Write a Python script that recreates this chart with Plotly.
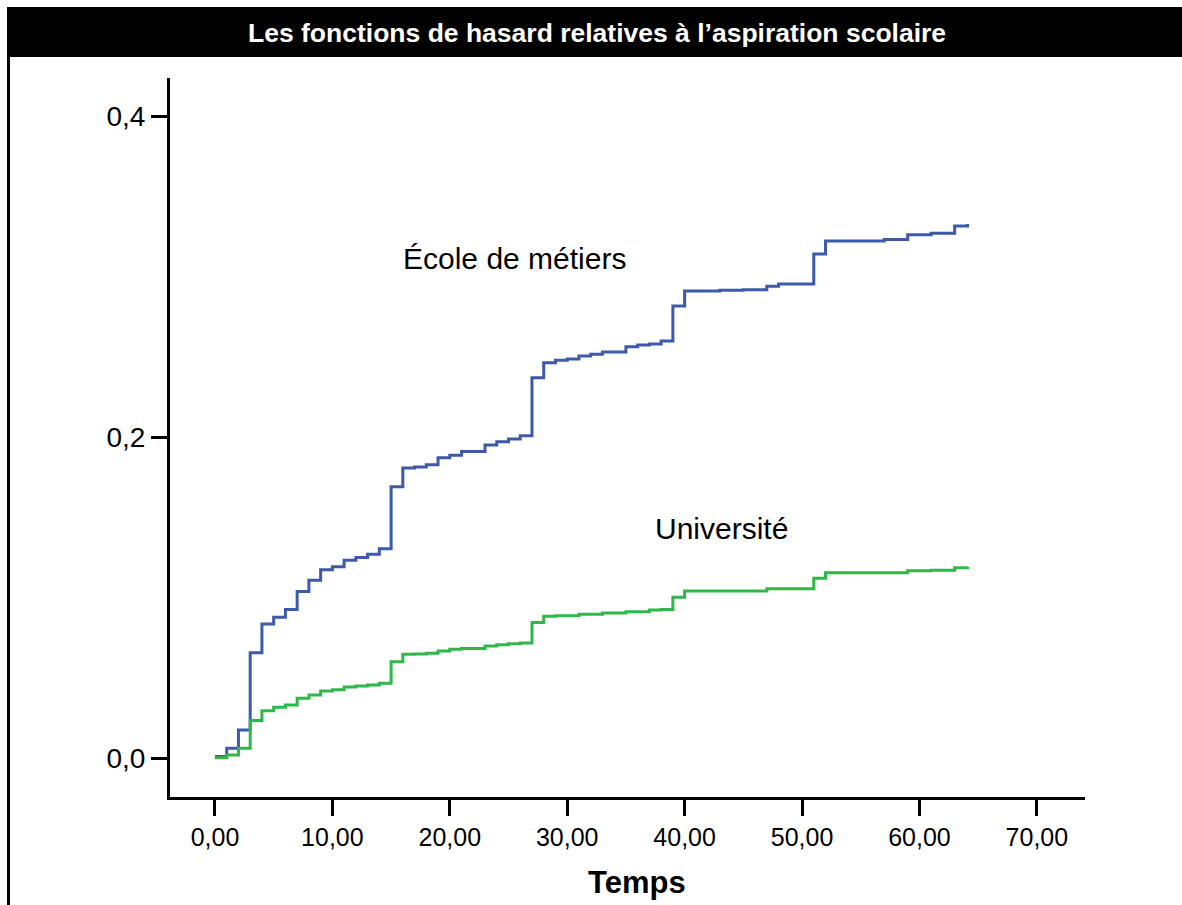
import plotly.graph_objects as go

# ---- data ----
metiers_t = [0, 1, 2, 3, 4, 5, 6, 7, 8, 9, 10, 11, 12, 13, 14, 15, 16, 17, 18, 19, 20, 21,
             23, 24, 25, 26, 27, 28, 29, 30, 31, 32, 33, 35, 36, 37, 38, 39, 40, 43, 45, 47,
             48, 51, 52, 57, 59, 61, 63, 64.1]
metiers_h = [0.001, 0.006, 0.0174, 0.0656, 0.0835, 0.0877, 0.0926, 0.1038, 0.1107, 0.1173,
             0.1192, 0.1232, 0.125, 0.1269, 0.1304, 0.169, 0.1807, 0.1813, 0.1827, 0.1871,
             0.1886, 0.191, 0.195, 0.197, 0.1988, 0.2008, 0.237, 0.2463, 0.2478, 0.2486,
             0.2505, 0.2515, 0.253, 0.2563, 0.2573, 0.258, 0.2598, 0.2816, 0.291, 0.2914,
             0.2918, 0.294, 0.2953, 0.314, 0.3221, 0.323, 0.326, 0.327, 0.3315, 0.3327]

univ_t = [0, 1, 2, 3, 4, 5, 6, 7, 8, 9, 10, 11, 12, 13, 14, 15, 16, 17, 18, 19, 20, 21,
          23, 24, 25, 26, 27, 28, 29, 31, 33, 35, 37, 38, 39, 40, 47, 51, 52, 59, 61, 63, 64.1]
univ_h = [0.0002, 0.0019, 0.006, 0.0233, 0.0295, 0.0316, 0.033, 0.0372, 0.0393, 0.0417,
          0.0426, 0.0442, 0.0449, 0.0455, 0.0465, 0.06, 0.0646, 0.0648, 0.0652, 0.0667,
          0.0677, 0.0683, 0.0698, 0.0706, 0.0712, 0.0717, 0.0845, 0.0883, 0.0887, 0.0895,
          0.0903, 0.0912, 0.0922, 0.0926, 0.1002, 0.104, 0.1055, 0.112, 0.1155, 0.1167,
          0.117, 0.1186, 0.1192]

x_tickvals = [0, 10, 20, 30, 40, 50, 60, 70]
x_ticktext = ["0,00", "10,00", "20,00", "30,00", "40,00", "50,00", "60,00", "70,00"]
y_tickvals = [0.0, 0.2, 0.4]
y_ticktext = ["0,0", "0,2", "0,4"]

title_text = "Les fonctions de hasard relatives à l’aspiration scolaire"
label_metiers = "École de métiers"
label_univ = "Université"
x_title = "Temps"

FONT = "Arial, 'Liberation Sans', sans-serif"

fig = go.Figure()
fig.add_trace(go.Scatter(x=metiers_t, y=metiers_h, mode="lines", line_shape="hv",
                         line=dict(color="#3D5AAA", width=3), name=label_metiers,
                         hoverinfo="skip"))
fig.add_trace(go.Scatter(x=univ_t, y=univ_h, mode="lines", line_shape="hv",
                         line=dict(color="#2FB84A", width=3), name=label_univ,
                         hoverinfo="skip"))

axis_common = dict(showgrid=False, zeroline=False, showline=True, linecolor="black",
                   linewidth=3, ticks="outside", ticklen=16, tickwidth=3, tickcolor="black")

fig.update_xaxes(range=[-3.83, 74.1], tickvals=x_tickvals, ticktext=x_ticktext,
                 ticklabelstandoff=0,
                 tickfont=dict(family=FONT, size=25, color="black"), **axis_common)
fig.update_yaxes(range=[-0.0243, 0.4237], tickvals=y_tickvals, ticktext=y_ticktext,
                 tickfont=dict(family=FONT, size=28, color="black"), **axis_common)

fig.update_layout(
    width=1182, height=905, autosize=False,
    margin=dict(l=170, r=97, t=78, b=108),
    paper_bgcolor="white", plot_bgcolor="white",
    showlegend=False,
    shapes=[
        dict(type="rect", xref="paper", yref="paper", x0=-0.17814, x1=1.2,
             y0=1.02921, y1=1.09875, fillcolor="black", line=dict(width=0), layer="above"),
        dict(type="line", xref="paper", yref="paper", x0=-0.1765, x1=-0.1765,
             y0=-0.2, y1=1.03, line=dict(color="black", width=3)),
    ],
    annotations=[
        dict(text=title_text, xref="paper", yref="paper", x=0.4667, y=1.0626,
             xanchor="center", yanchor="middle", showarrow=False,
             font=dict(family=FONT, size=26.5, color="white", weight="bold")),
        dict(text=label_metiers, xref="x", yref="y", x=25.5, y=0.3115,
             xanchor="center", yanchor="middle", showarrow=False,
             font=dict(family=FONT, size=30, color="black")),
        dict(text=label_univ, xref="x", yref="y", x=43.1, y=0.1433,
             xanchor="center", yanchor="middle", showarrow=False,
             font=dict(family=FONT, size=30, color="black")),
        dict(text=x_title, xref="paper", yref="paper", x=(637 - 170) / 915,
             y=-0.1196, xanchor="center", yanchor="middle", showarrow=False,
             font=dict(family=FONT, size=31, color="black", weight="bold")),
    ],
)

fig.write_html("out.html", config={"displayModeBar": False},
               post_script="document.body.style.margin='0';document.body.style.overflow='hidden';")
